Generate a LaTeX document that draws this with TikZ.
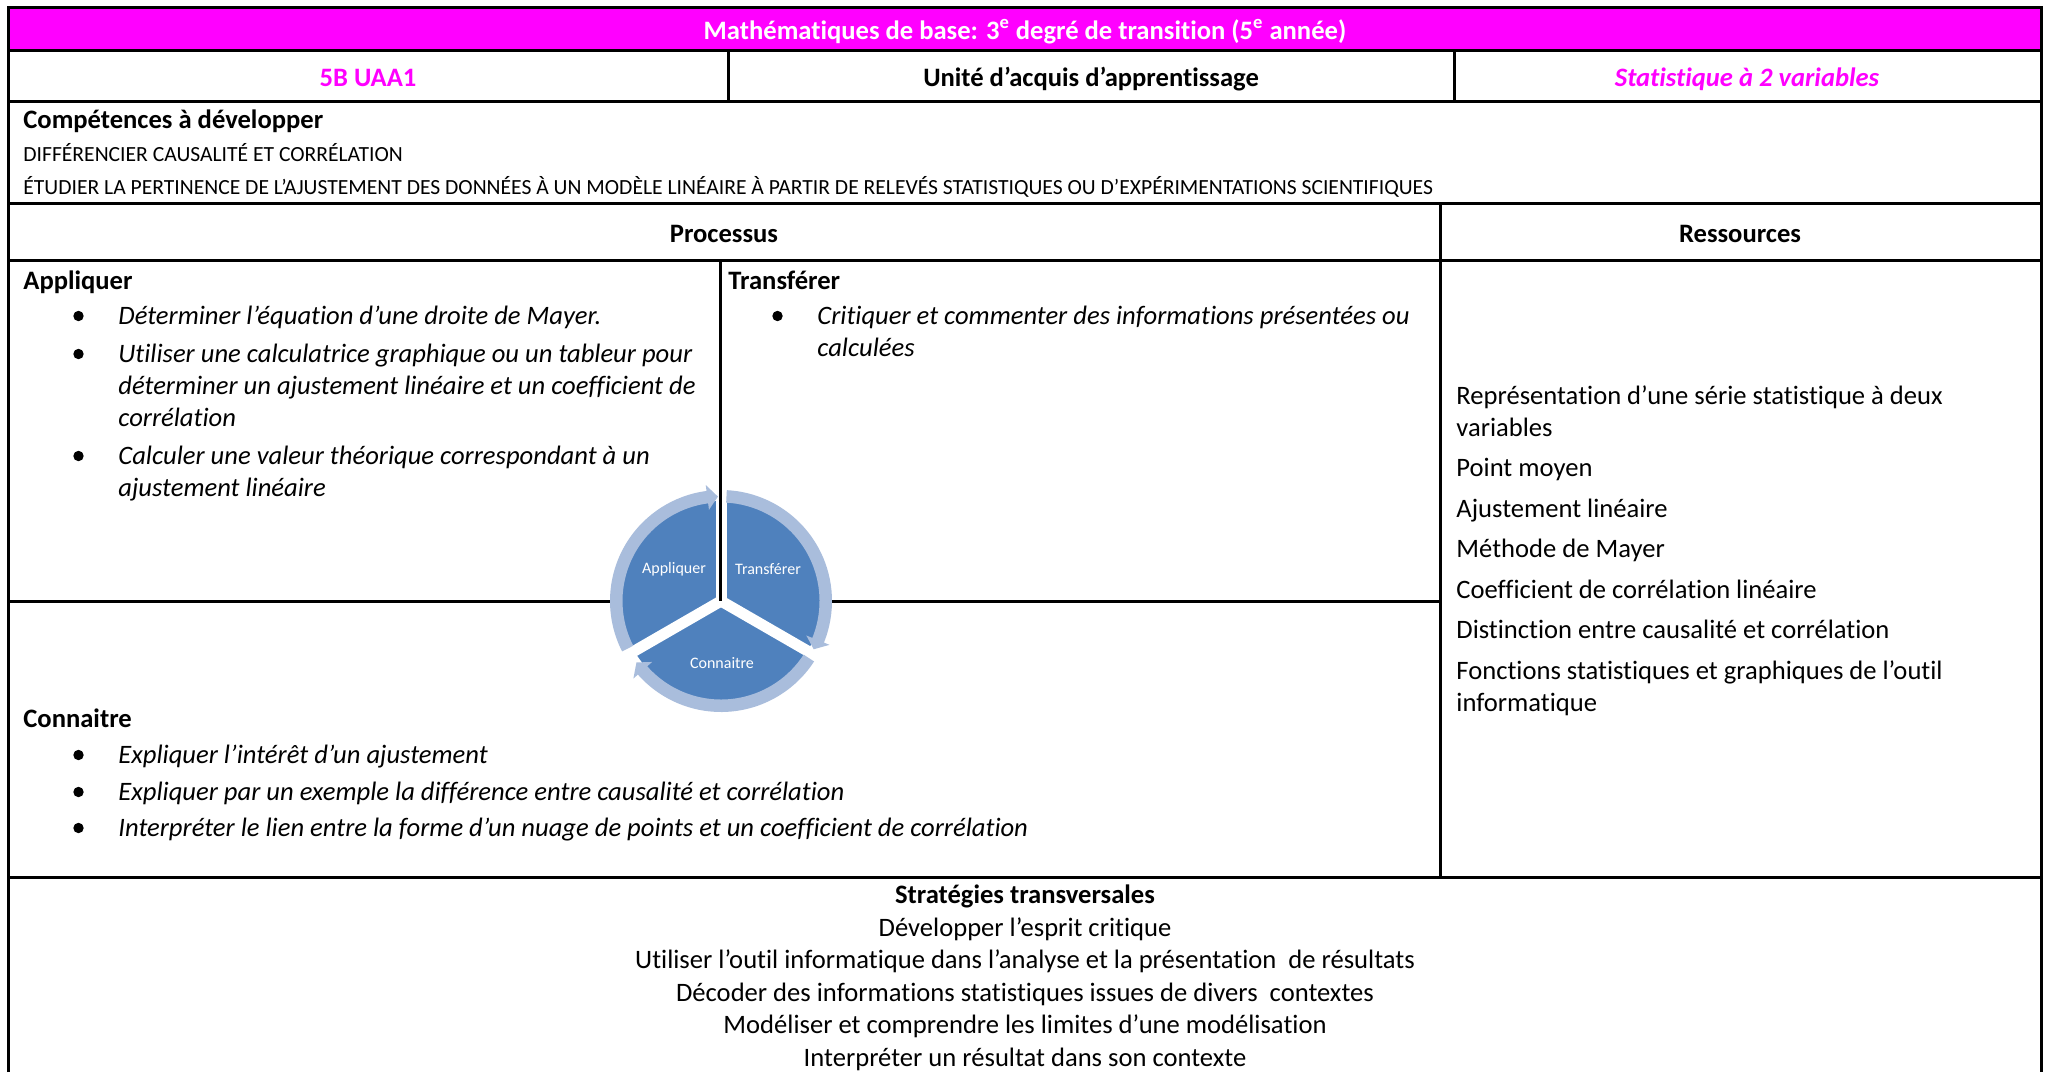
\documentclass[tikz,border=0pt]{standalone}
\usepackage{fontspec}
\setmainfont{Carlito}[Ligatures=NoCommon]
\usetikzlibrary{calc}
\definecolor{uaamagenta}{HTML}{FF00FF}
\definecolor{cycleblue}{HTML}{4F81BD}
\definecolor{cyclering}{HTML}{A9BDDC}
\tikzset{
	rule/.style={line width=1.5pt},
	bodytext/.style={anchor=base west, inner sep=0pt, align=left, font=\fontsize{13.3}{16}\selectfont},
	itemtext/.style={bodytext, font=\fontsize{13.3}{16}\selectfont\itshape},
	headtext/.style={anchor=base, inner sep=0pt, font=\fontsize{13.3}{16}\selectfont\bfseries},
	capstext/.style={anchor=base west, inner sep=0pt, font=\fontsize{10.8}{12}\selectfont},
	cyclelabel/.style={inner sep=0pt, text=white, font=\fontsize{8}{9}\selectfont},
}
% the bullet in front of an item, 40px left of its first line
% (#2 = number of lines below the first one, a line is 32px)
\newcommand{\puce}[2]{\fill ($(#1.base west)+(-39.5,-8-32*#2)$) circle[radius=5.2];}

\begin{document}
\begin{tikzpicture}[x=0.5pt, y=-0.5pt]
\useasboundingbox (0,0) rectangle (2049,1072);
% the table is measured in pixels of the page, y going down
\def\xl{8.5}
\def\xr{2041.5}
\def\ytop{7.7}
\def\xsplit{1440}
\def\xproc{720}

% title band and rules
\fill[uaamagenta] (\xl,\ytop) rectangle (\xr,50);
\draw[rule] (\xl,1072) -- (\xl,\ytop) -- (\xr,\ytop) -- (\xr,1072);
\foreach \y in {50,101,203,260,877}
	\draw[rule] (\xl,\y) -- (\xr,\y);
\draw[rule] (728,50) -- (728,101);
\draw[rule] (1454,50) -- (1454,101);
\draw[rule] (\xsplit,203) -- (\xsplit,877);
\draw[rule] (\xl,601) -- (\xsplit,601);

% cycle in the middle of the processus
\begin{scope}[shift={(721,601)}, x=0.5pt, y=0.5pt]
	\fill[cycleblue] (0,0) circle[radius=100];
	\foreach \a in {90,210,330}
		\draw[white, line width=5.5pt] (0,0) -- (\a:125);
	\foreach \s/\b/\t in {207/97.5/91.7, 87/-22/-27.5, -33/-138.5/-144}
		\fill[cyclering] (\s:111) arc[start angle=\s, end angle=\b, radius=111]
			-- (\b:117) -- (\t:104.5) -- (\b:92) -- (\b:98.5)
			arc[start angle=\b, end angle=\s, radius=98.5] -- cycle;
\end{scope}
\draw[rule] (\xproc,260) -- (\xproc,601);
\node[cyclelabel] (capp) at (674,569) {Appliquer};
\node[cyclelabel] (ctra) at (768,569) {Transférer};
\node[cyclelabel] (ccon) at (722,663) {Connaitre};

% header rows
\node[headtext, text=white] (titre) at (1025,39) {Mathématiques de base: 3\textsuperscript{e} degré de transition (5\textsuperscript{e} année)};
\node[headtext, text=uaamagenta] (code) at (368,86) {5B UAA1};
\node[headtext] (unite) at (1091,86) {Unité d’acquis d’apprentissage};
\node[headtext, text=uaamagenta, font=\fontsize{13.3}{16}\selectfont\bfseries\itshape] (theme) at (1747,86) {Statistique à 2 variables};

% competences
\node[bodytext, font=\fontsize{13.3}{16}\selectfont\bfseries] (comp) at (23,128) {Compétences à développer};
\node[capstext] (comp1) at (23,161) {DIFFÉRENCIER CAUSALITÉ ET CORRÉLATION};
\node[capstext] (comp2) at (23,194) {ÉTUDIER LA PERTINENCE DE L’AJUSTEMENT DES DONNÉES À UN MODÈLE LINÉAIRE À PARTIR DE RELEVÉS STATISTIQUES OU D’EXPÉRIMENTATIONS SCIENTIFIQUES};

\node[headtext] (proc) at (724,242) {Processus};
\node[headtext] (ress) at (1740,242) {Ressources};

% appliquer (multi-line nodes sit on the baseline of their last line)
\node[bodytext, font=\fontsize{13.3}{16}\selectfont\bfseries] (app) at (23,289) {Appliquer};
\node[itemtext] (a1) at (118,324) {Déterminer l’équation d’une droite de Mayer.};
\node[itemtext] (a2) at (118,426) {Utiliser une calculatrice graphique ou un tableur pour\\déterminer un ajustement linéaire et un coefficient de\\corrélation};
\node[itemtext] (a3) at (118,496) {Calculer une valeur théorique correspondant à un\\ajustement linéaire};

% transferer
\node[bodytext, font=\fontsize{13.3}{16}\selectfont\bfseries] (tra) at (728,289) {Transférer};
\node[itemtext] (t1) at (817,356) {Critiquer et commenter des informations présentées ou\\calculées};

% connaitre
\node[bodytext, font=\fontsize{13.3}{16}\selectfont\bfseries] (con) at (23,727) {Connaitre};
\node[itemtext] (c1) at (118,763) {Expliquer l’intérêt d’un ajustement};
\node[itemtext] (c2) at (118,800) {Expliquer par un exemple la différence entre causalité et corrélation};
\node[itemtext] (c3) at (118,836) {Interpréter le lien entre la forme d’un nuage de points et un coefficient de corrélation};

\foreach \i/\n in {a1/0,a2/2,a3/1,t1/1,c1/0,c2/0,c3/0}
	{\puce{\i}{\n}}

% ressources
\node[bodytext] (res) at (1456,711) {Représentation d’une série statistique à deux\\variables\\[4.25pt]
	Point moyen\\[4.25pt]
	Ajustement linéaire\\[4.25pt]
	Méthode de Mayer\\[4.25pt]
	Coefficient de corrélation linéaire\\[4.25pt]
	Distinction entre causalité et corrélation\\[4.25pt]
	Fonctions statistiques et graphiques de l’outil\\informatique};

% strategies
\node[anchor=base, inner sep=0pt, align=center, font=\fontsize{13.3}{16.25}\selectfont] (strat) at (1025,1066) {\textbf{Stratégies transversales}\\
	Développer l’esprit critique\\
	Utiliser l’outil informatique dans l’analyse et la présentation~ de résultats\\
	Décoder des informations statistiques issues de divers~ contextes\\
	Modéliser et comprendre les limites d’une modélisation\\
	Interpréter un résultat dans son contexte};
\end{tikzpicture}
\end{document}
